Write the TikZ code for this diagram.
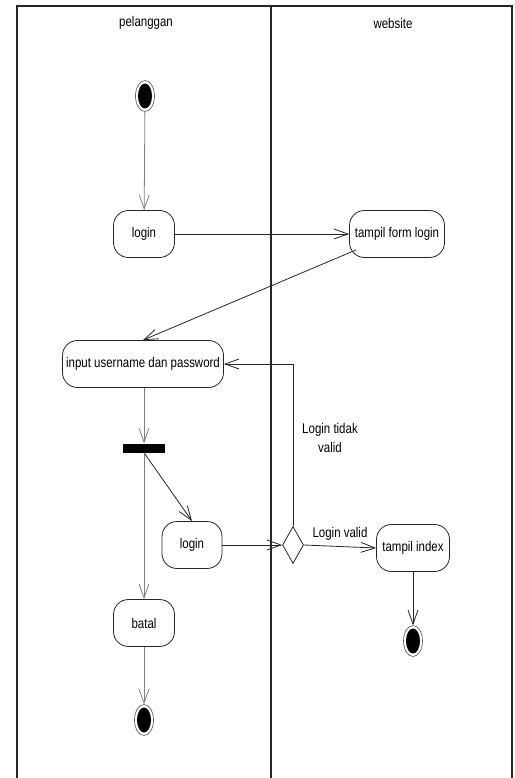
\documentclass[tikz,border=0pt]{standalone}
\usepackage{fontspec}
\setmainfont{Liberation Sans}[FakeStretch=0.82]
\usetikzlibrary{arrows.meta,shapes.geometric,calc}
\begin{document}
\begin{tikzpicture}[x=1pt,y=-1pt,
  font=\fontsize{14}{19}\selectfont,
  lane/.style={line width=1.4pt,draw=black!85},
  action/.style={draw=black!85,line width=0.8pt,rectangle,rounded corners=15pt,
    minimum height=47pt,inner sep=2pt,fill=white},
  startnode/.style={draw=black!70,line width=0.6pt,ellipse,minimum width=19pt,
    minimum height=31pt,inner sep=0pt,fill=white,
    path picture={\fill[black] (path picture bounding box.center) ellipse (7pt and 12.5pt);}},
  forkbar/.style={fill=black,rectangle,minimum width=42pt,minimum height=9pt,inner sep=0pt},
  decision/.style={draw=black!85,line width=0.8pt,diamond,minimum width=21pt,
    minimum height=37pt,inner sep=0pt,fill=white},
  flow/.style={line width=0.8pt,draw=black!85,-{Straight Barb[length=14pt,width=10pt,line width=0.8pt]}},
  gflow/.style={flow,draw=black!50},
  lbl/.style={inner sep=1pt,align=center}
]
\useasboundingbox (0,0) rectangle (514,778);

% swimlane frame
\draw[lane] (17,778) -- (17,6) -- (512,6) -- (512,778);
\draw[lane] (271,6) -- (271,778);
\node (hdrA) at (146,23) {pelanggan};
\node (hdrB) at (393,23) {website};

% nodes
\node[startnode] (start) at (145,96) {};
\node[action,minimum width=61pt] (login1) at (144,234) {login};
\node[action,minimum width=95pt] (tfl) at (397,234) {tampil form login};
\node[action,minimum width=161pt] (input) at (143,364) {input username dan password};
\node[forkbar] (fork) at (144,448) {};
\node[action,minimum width=60pt] (login2) at (192,545) {login};
\node[action,minimum width=61pt] (batal) at (144,623) {batal};
\node[startnode] (end1) at (144,720) {};
\node[decision] (dec) at (293,545) {};
\node[action,minimum width=73pt] (tidx) at (413,548) {tampil index};
\node[startnode] (end2) at (413,641) {};

% connectors
\draw[gflow] (start) -- (login1);
\draw[flow] (login1) -- (tfl);
\draw[flow] ([shift={(7,-8)}]tfl.south west) -- (input.north);
\draw[gflow] (input.south -| fork.north) -- (fork.north);
\draw[flow] (fork.south) -- (login2.north);
\draw[gflow] (fork.south) -- (batal.north -| fork.south);
\draw[gflow] (batal) -- (end1);
\draw[flow] (login2) -- (dec);
\draw[flow] (dec.east) -- (tidx.west) node[lbl,pos=0.5,above=5pt] (lv) {Login valid};
\draw[flow] (dec.north) |- (input.east);
\node[lbl] (ltv) at (330,438) {Login tidak\\valid};
\draw[flow] (tidx) -- (end2);
\end{tikzpicture}
\end{document}
